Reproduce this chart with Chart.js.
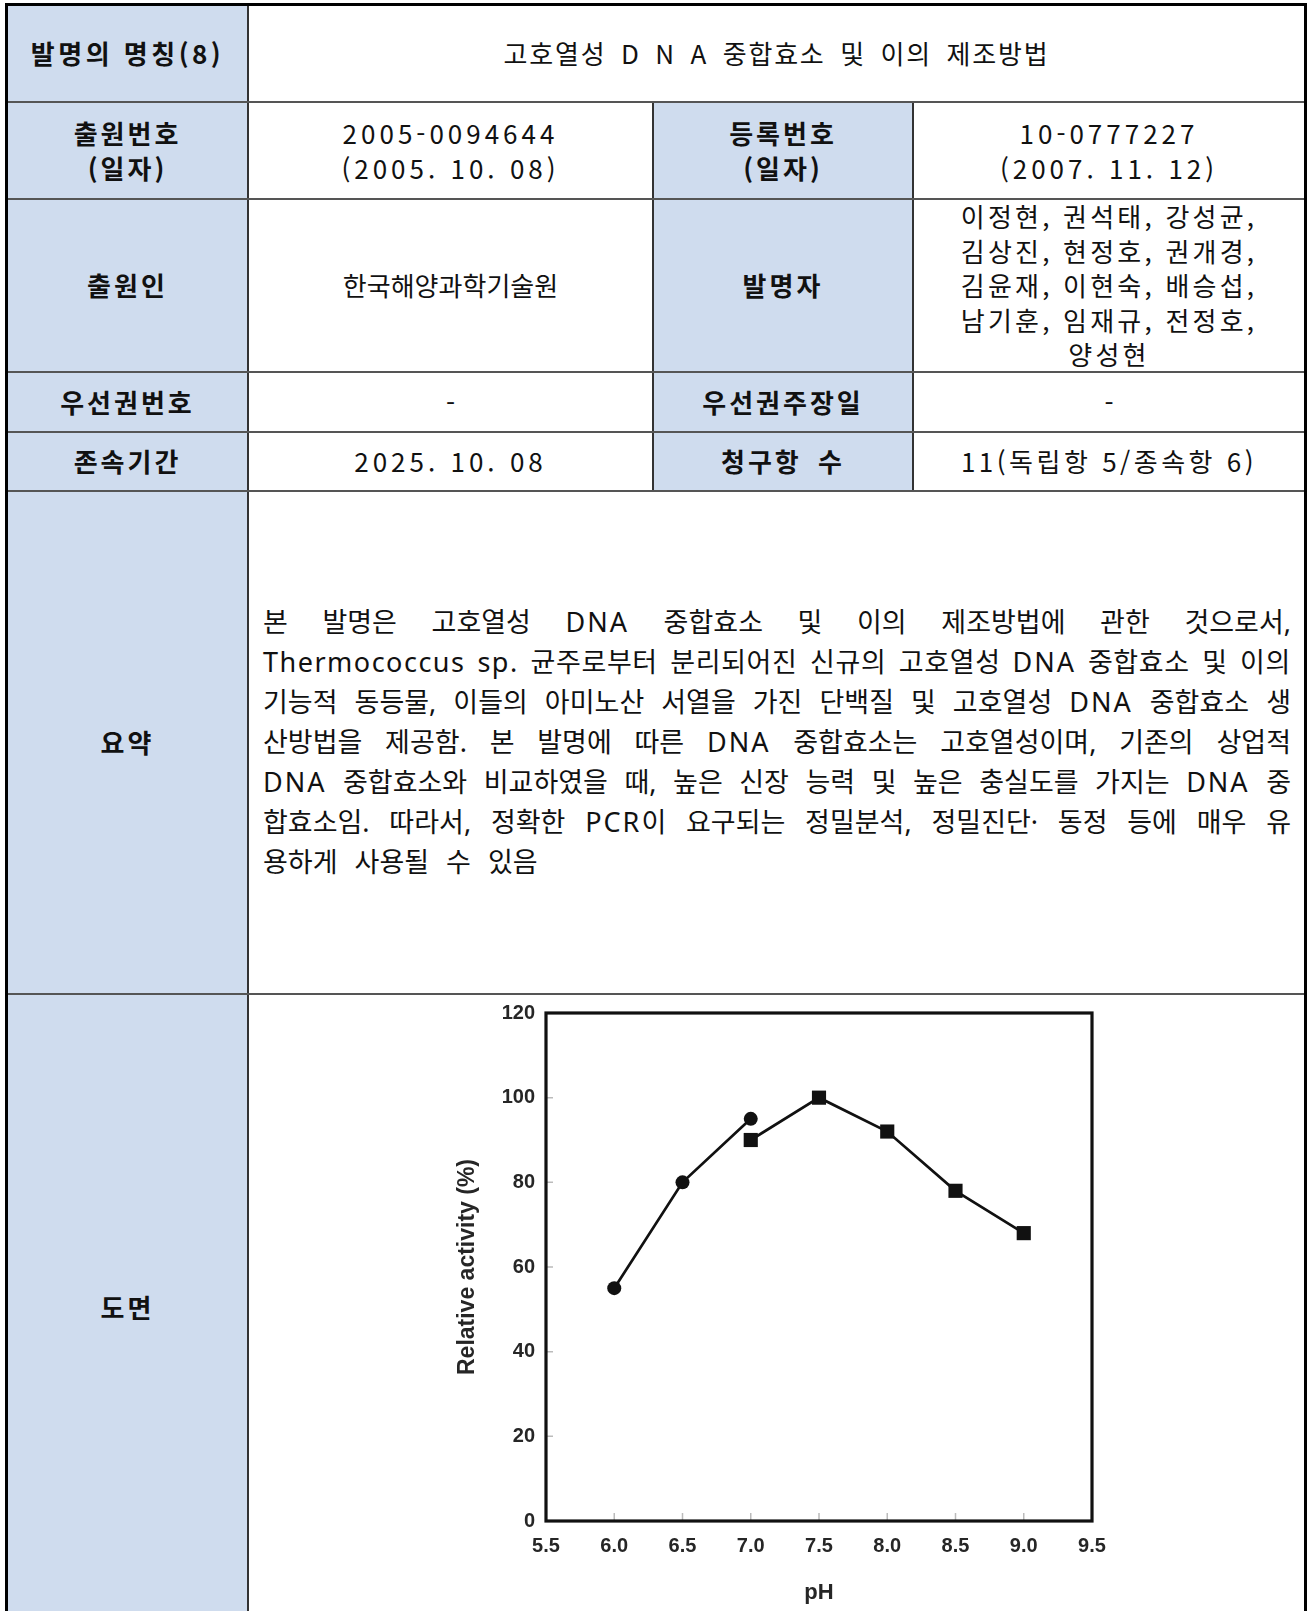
<!DOCTYPE html>
<html lang="ko">
<head>
<meta charset="utf-8">
<title>고호열성 DNA 중합효소 및 이의 제조방법</title>
<script src="https://cdn.jsdelivr.net/npm/chart.js@4.4.1/dist/chart.umd.min.js"></script>
<style>
  html, body { margin: 0; padding: 0; background: #fff; }
  body { width: 1309px; height: 1611px; overflow: hidden; position: relative;
         font-family: "Noto Sans CJK KR", "Noto Sans", sans-serif; color: #111; }
  .fill { position: absolute; background: #cfdcee; }
  .vl { position: absolute; width: 2px; background: #333; }
  .hl { position: absolute; height: 2px; background: #555; }
  .cell { position: absolute; display: flex; flex-direction: column; align-items: center;
          justify-content: center; text-align: center; font-size: 26px; line-height: 34.5px;
          white-space: nowrap; }
  .hdr { font-weight: bold; letter-spacing: 3px; }
  .num { letter-spacing: 4px; }
  .names { letter-spacing: 3.2px; }
  .abstract { position: absolute; left: 263px; width: 1028px; top: 491px; height: 502px;
              display: flex; flex-direction: column; justify-content: center;
              font-family: "Noto Sans", "Noto Sans CJK KR", sans-serif;
              font-size: 27px; line-height: 40px; }
  .abstract div { white-space: nowrap; }
  .abstract .lat { letter-spacing: 2px; }
  .abstract .lat.wide { letter-spacing: 1.5px; }
  .abstract .ko { letter-spacing: 0.6px; }
  #frame { position: absolute; left: 5px; top: 3px; width: 1296px; height: 1700px;
           border: 3px solid #000; border-bottom: none; }
  #chartBox { position: absolute; left: 420px; top: 990px; width: 720px; height: 621px; }
</style>
</head>
<body>

<!-- header cell backgrounds -->
<div class="fill" style="left:8px;top:6px;width:240px;height:1700px;"></div>
<div class="fill" style="left:653px;top:102px;width:260px;height:389px;"></div>

<!-- grid lines -->
<div class="vl" style="left:247px;top:6px;height:1700px;"></div>
<div class="vl" style="left:652px;top:102px;height:389px;"></div>
<div class="vl" style="left:912px;top:102px;height:389px;"></div>
<div class="hl" style="left:8px;top:101px;width:1296px;"></div>
<div class="hl" style="left:8px;top:198px;width:1296px;"></div>
<div class="hl" style="left:8px;top:371px;width:1296px;"></div>
<div class="hl" style="left:8px;top:431px;width:1296px;"></div>
<div class="hl" style="left:8px;top:490px;width:1296px;"></div>
<div class="hl" style="left:8px;top:993px;width:1296px;"></div>
<div id="frame"></div>

<!-- row 1 -->
<div class="cell hdr" style="left:8px;top:6px;width:239px;height:95px;letter-spacing:3.5px;">발명의 명칭(8)</div>
<div class="cell" style="left:249px;top:6px;width:1055px;height:95px;letter-spacing:1.8px;word-spacing:5.5px;">고호열성 D N A 중합효소 및 이의 제조방법</div>

<!-- row 2 -->
<div class="cell hdr" style="left:8px;top:103px;width:239px;height:95px;"><span>출원번호</span><span>(일자)</span></div>
<div class="cell num" style="left:249px;top:103px;width:403px;height:95px;"><span>2005-0094644</span><span>(2005. 10. 08)</span></div>
<div class="cell hdr" style="left:654px;top:103px;width:258px;height:95px;"><span>등록번호</span><span>(일자)</span></div>
<div class="cell num" style="left:914px;top:103px;width:390px;height:95px;"><span>10-0777227</span><span>(2007. 11. 12)</span></div>

<!-- row 3 -->
<div class="cell hdr" style="left:8px;top:200px;width:239px;height:171px;">출원인</div>
<div class="cell" style="left:249px;top:200px;width:403px;height:171px;">한국해양과학기술원</div>
<div class="cell hdr" style="left:654px;top:200px;width:258px;height:171px;">발명자</div>
<div class="cell names" style="left:914px;top:200px;width:390px;height:171px;line-height:34.4px;">
  <span>이정현, 권석태, 강성균,</span><span>김상진, 현정호, 권개경,</span><span>김윤재, 이현숙, 배승섭,</span><span>남기훈, 임재규, 전정호,</span><span>양성현</span>
</div>

<!-- row 4 -->
<div class="cell hdr" style="left:8px;top:373px;width:239px;height:58px;">우선권번호</div>
<div class="cell" style="left:249px;top:373px;width:403px;height:58px;">-</div>
<div class="cell hdr" style="left:654px;top:373px;width:258px;height:58px;">우선권주장일</div>
<div class="cell" style="left:914px;top:373px;width:390px;height:58px;">-</div>

<!-- row 5 -->
<div class="cell hdr" style="left:8px;top:433px;width:239px;height:57px;">존속기간</div>
<div class="cell num" style="left:249px;top:433px;width:403px;height:57px;">2025. 10. 08</div>
<div class="cell hdr" style="left:654px;top:433px;width:258px;height:57px;word-spacing:6px;">청구항 수</div>
<div class="cell names" style="left:914px;top:433px;width:390px;height:57px;letter-spacing:3.5px;">11(독립항 5/종속항 6)</div>

<!-- row 6 : abstract -->
<div class="cell hdr" style="left:8px;top:492px;width:239px;height:501px;">요약</div>
<div class="abstract" id="abstract">
  <div>본 발명은 고호열성 <span class="lat">DNA</span> 중합효소 및 이의 제조방법에 관한 것으로서,</div>
  <div><span class="lat wide">Thermococcus</span> <span class="lat wide">sp.</span> <span class="ko">균주로부터 분리되어진 신규의 고호열성</span> <span class="lat">DNA</span> <span class="ko">중합효소 및 이의</span></div>
  <div>기능적 동등물, 이들의 아미노산 서열을 가진 단백질 및 고호열성 <span class="lat">DNA</span> 중합효소 생</div>
  <div>산방법을 제공함. 본 발명에 따른 <span class="lat">DNA</span> 중합효소는 고호열성이며, 기존의 상업적</div>
  <div><span class="lat">DNA</span> 중합효소와 비교하였을 때, 높은 신장 능력 및 높은 충실도를 가지는 <span class="lat">DNA</span> 중</div>
  <div>합효소임. 따라서, 정확한 <span class="lat">PCR</span>이 요구되는 정밀분석, 정밀진단· 동정 등에 매우 유</div>
  <div data-last="1" style="word-spacing:10px;">용하게 사용될 수 있음</div>
</div>

<!-- row 7 : figure -->
<div class="cell hdr" style="left:8px;top:995px;width:239px;height:624px;">도면</div>
<div id="chartBox"><canvas id="chart" width="720" height="621"></canvas></div>

<script>
// Justify each abstract line across the full text width by spreading the word gaps.
(function () {
  const box = document.getElementById('abstract');
  const full = box.clientWidth;
  box.querySelectorAll(':scope > div').forEach(function (line) {
    if (line.dataset.last) return;
    const range = document.createRange();
    range.selectNodeContents(line);
    const natural = range.getBoundingClientRect().width;
    const gaps = (line.textContent.trim().match(/ /g) || []).length;
    if (gaps > 0) line.style.wordSpacing = ((full - natural) / gaps) + 'px';
  });
})();

// pH profile: relative activity (%) measured in two buffer systems
const phBufferA = [6.0, 6.5, 7.0];
const activityBufferA = [55, 80, 95];
const phBufferB = [7.0, 7.5, 8.0, 8.5, 9.0];
const activityBufferB = [90, 100, 92, 78, 68];

const phTicks = [5.5, 6.0, 6.5, 7.0, 7.5, 8.0, 8.5, 9.0, 9.5];
const activityTicks = [0, 20, 40, 60, 80, 100, 120];

const INK = '#262626';
const AXIS_FONT = 'Liberation Sans, Arial, sans-serif';

// Closed box around the plot area plus short inward tick marks
const boxFrame = {
  id: 'boxFrame',
  afterDraw(chart) {
    const { ctx, chartArea: a, scales } = chart;
    ctx.save();
    ctx.strokeStyle = '#bbb';
    ctx.lineWidth = 1.5;
    ctx.beginPath();
    activityTicks.forEach(v => {
      const y = scales.y.getPixelForValue(v);
      ctx.moveTo(a.left, y); ctx.lineTo(a.left + 7, y);
    });
    phTicks.forEach(v => {
      const x = scales.x.getPixelForValue(v);
      ctx.moveTo(x, a.bottom); ctx.lineTo(x, a.bottom - 8);
    });
    ctx.stroke();
    ctx.strokeStyle = '#111';
    ctx.lineWidth = 3.2;
    ctx.strokeRect(a.left, a.top, a.right - a.left, a.bottom - a.top);
    ctx.restore();
  }
};

const toPoints = (xs, ys) => xs.map((x, i) => ({ x: x, y: ys[i] }));

new Chart(document.getElementById('chart'), {
  type: 'scatter',
  data: {
    datasets: [
      {
        data: toPoints(phBufferA, activityBufferA),
        showLine: true,
        borderColor: '#111',
        borderWidth: 2.7,
        pointStyle: 'circle',
        pointRadius: 7,
        pointBackgroundColor: '#111',
        pointBorderColor: '#111',
        pointBorderWidth: 0
      },
      {
        data: toPoints(phBufferB, activityBufferB),
        showLine: true,
        borderColor: '#111',
        borderWidth: 2.7,
        pointStyle: 'rect',
        pointRadius: 10,
        pointBackgroundColor: '#111',
        pointBorderColor: '#111',
        pointBorderWidth: 0
      }
    ]
  },
  options: {
    responsive: false,
    animation: false,
    devicePixelRatio: 1,
    layout: { padding: { left: 0, top: 11, right: 48, bottom: 0 } },
    plugins: { legend: { display: false }, tooltip: { enabled: false } },
    scales: {
      x: {
        type: 'linear',
        min: 5.5,
        max: 9.5,
        afterBuildTicks(scale) { scale.ticks = phTicks.map(v => ({ value: v })); },
        afterFit(scale) { scale.height = 90; },
        grid: { display: false, drawTicks: false },
        border: { display: false },
        ticks: {
          autoSkip: false,
          maxRotation: 0,
          padding: 13,
          color: INK,
          font: { family: AXIS_FONT, size: 20, weight: 'bold' },
          callback: v => Number(v).toFixed(1)
        },
        title: {
          display: true,
          text: 'pH',
          color: INK,
          font: { family: AXIS_FONT, size: 22, weight: 'bold' },
          padding: { top: 0, bottom: 5 }
        }
      },
      y: {
        type: 'linear',
        min: 0,
        max: 120,
        afterBuildTicks(scale) { scale.ticks = activityTicks.map(v => ({ value: v })); },
        afterFit(scale) { scale.width = 126; },
        grid: { display: false, drawTicks: false },
        border: { display: false },
        ticks: {
          padding: 11,
          color: INK,
          font: { family: AXIS_FONT, size: 20, weight: 'bold' }
        },
        title: {
          display: true,
          text: 'Relative activity (%)',
          color: INK,
          font: { family: AXIS_FONT, size: 23, weight: 'bold' },
          padding: { top: 34, bottom: 0 }
        }
      }
    }
  },
  plugins: [boxFrame]
});
</script>
</body>
</html>
